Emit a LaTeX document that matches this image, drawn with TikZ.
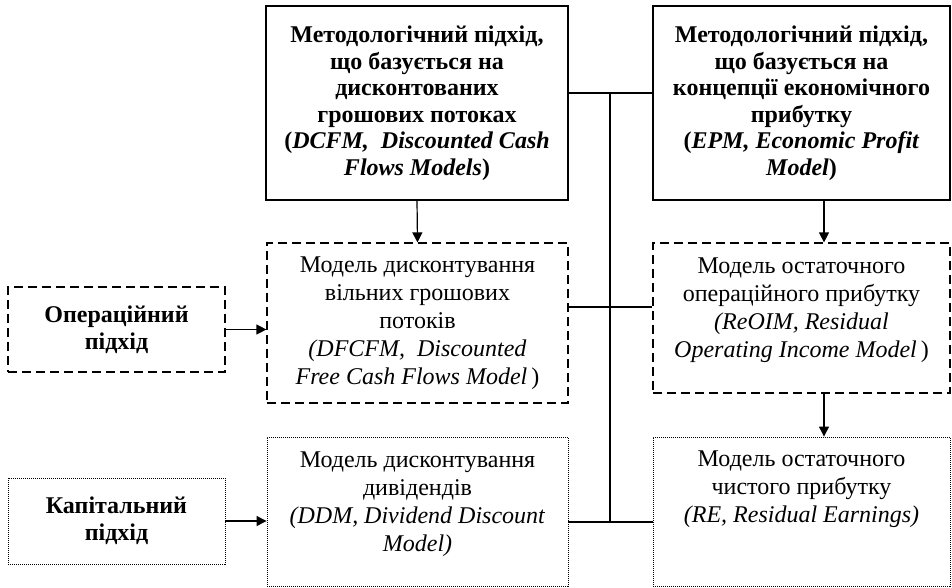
\documentclass[tikz,border=0pt]{standalone}
\usepackage{fontspec}
\setmainfont{Liberation Serif}
\usetikzlibrary{arrows.meta}
\begin{document}
\begin{tikzpicture}[x=1pt,y=-1pt,
  base/.style={align=center, inner sep=0pt, line width=1.2pt},
  solidbox/.style={base, draw, font=\bfseries\fontsize{24}{26.5}\selectfont},
  dashbox/.style={base, draw, dash pattern=on 9pt off 5pt},
  dotbox/.style={base, draw, line width=0.9pt, dash pattern=on 1pt off 1pt},
  modeltext/.style={font=\fontsize{24}{28}\selectfont},
  approach/.style={font=\bfseries\fontsize{24}{27}\selectfont},
  conn/.style={line width=1.2pt},
  arr/.style={conn, -{Triangle[length=10pt,width=10pt]}}]
\useasboundingbox (0,0) rectangle (952,588);
% top boxes
\node[solidbox, minimum width=302pt, minimum height=194pt] (A) at (417,103)
  {Методологічний підхід,\\ що базується на\\ дисконтованих\\ грошових потоках\\
   (\textit{DCFM,\ \ Discounted Cash}\\ \textit{Flows Models})};
\node[solidbox, minimum width=297pt, minimum height=194pt] (B) at (801.5,103)
  {Методологічний підхід,\\ що базується на\\ концепції економічного\\ прибутку\\
   (\textit{EPM, Economic Profit}\\ \textit{Model})};
% model boxes
\node[dashbox, modeltext, minimum width=301pt, minimum height=160pt] (C) at (417.5,323)
  {Модель дисконтування\\ вільних грошових\\ потоків\\ \textit{(DFCFM,\ \ Discounted}\\ \textit{Free Cash Flows Model\,})};
\node[dashbox, modeltext, minimum width=297pt, minimum height=150pt] (D) at (801.5,318)
  {Модель остаточного\\ операційного прибутку\\ \textit{(ReOIM, Residual}\\ \textit{Operating Income Model\,})\\[-8pt] \mbox{}};
\node[dotbox, modeltext, minimum width=301pt, minimum height=149pt] (F) at (417.5,511.5)
  {Модель дисконтування\\ дивідендів\\ \textit{(DDM, Dividend Discount}\\ \textit{Model)}\\[-8pt]};
\node[dotbox, modeltext, minimum width=297pt, minimum height=149pt] (G) at (801.5,511.5)
  {Модель остаточного\\ чистого прибутку\\ \textit{(RE, Residual Earnings)}\\ \mbox{}\\[-6pt] \mbox{}};
% approaches
\node[dashbox, approach, minimum width=217pt, minimum height=85pt] (E) at (116.5,329.5)
  {Операційний\\ підхід};
\node[dotbox, approach, minimum width=217pt, minimum height=86pt] (H) at (116.5,521)
  {Капітальний\\ підхід};
% connectors
\coordinate (J1) at (610,93);
\coordinate (J2) at (610,307);
\coordinate (J3) at (610,522);
\draw[conn] (A.east |- J1) -- (B.west |- J1);
\draw[conn] (J1) -- (J3);
\draw[conn] (C.east |- J2) -- (D.west |- J2);
\draw[conn] (F.east |- J3) -- (G.west |- J3);
\draw[arr] (A.south) -- (C.north);
\coordinate (K) at (824,0);
\draw[arr] (B.south -| K) -- (D.north -| K);
\draw[arr] (D.south -| K) -- (G.north -| K);
\draw[arr] (E.east) -- (C.west |- E.east);
\draw[arr] (H.east) -- (F.west |- H.east);
\end{tikzpicture}
\end{document}
